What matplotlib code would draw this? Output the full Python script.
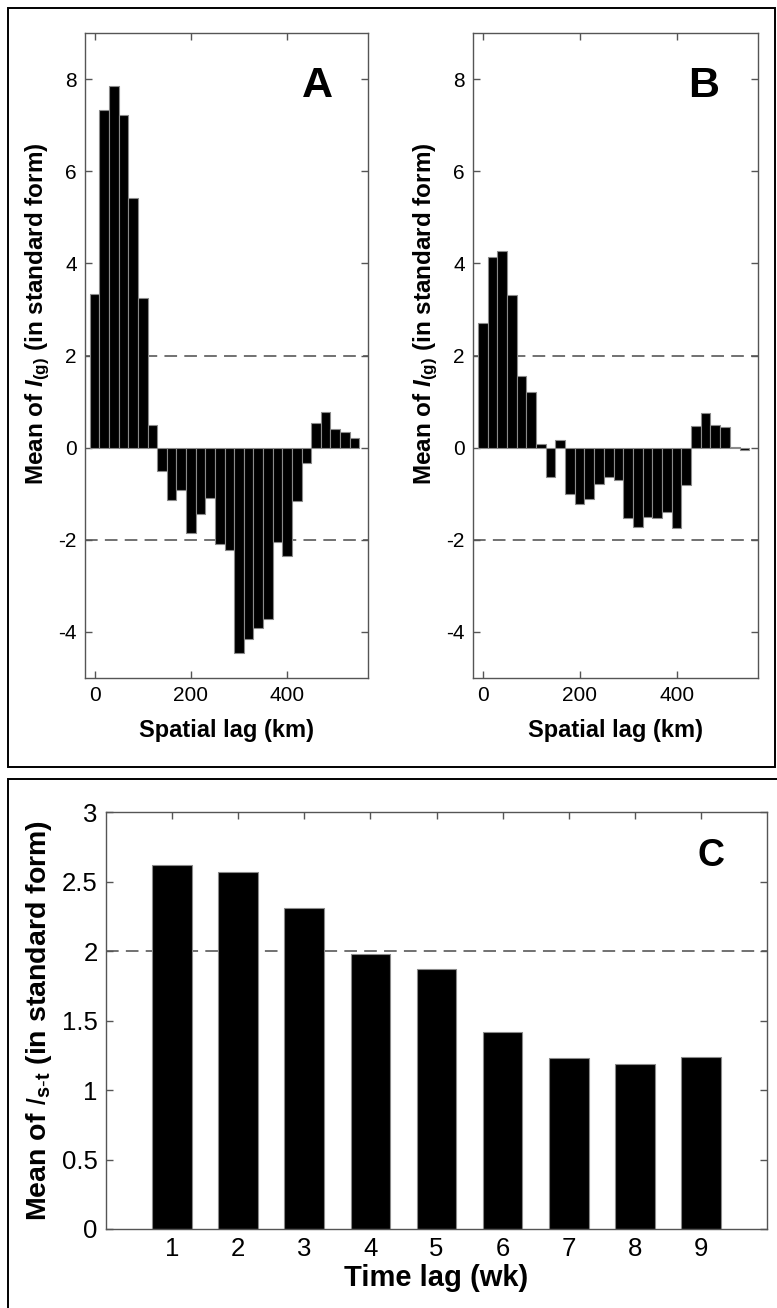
import matplotlib
matplotlib.use("Agg")
import matplotlib.pyplot as plt
from matplotlib.patches import Rectangle

plt.rcParams['font.family'] = ['Liberation Sans', 'DejaVu Sans']
plt.rcParams['axes.unicode_minus'] = False
plt.rcParams['mathtext.fontset'] = 'custom'
plt.rcParams['mathtext.rm'] = 'Liberation Sans'
plt.rcParams['mathtext.it'] = 'Liberation Sans:italic'
plt.rcParams['mathtext.bf'] = 'Liberation Sans:bold'
plt.rcParams['mathtext.bfit'] = 'Liberation Sans:italic:bold'

# spatial lag classes (km)
lags = [0, 20, 40, 60, 80, 100, 120, 140, 160, 180, 200, 220, 240, 260,
        280, 300, 320, 340, 360, 380, 400, 420, 440, 460, 480, 500, 520, 540]
# panel A: mean I(g)
vals_a = [3.33, 7.33, 7.86, 7.21, 5.42, 3.24, 0.49, -0.51, -1.14, -0.91,
          -1.86, -1.43, -1.09, -2.10, -2.23, -4.46, -4.15, -3.91, -3.73, -2.04,
          -2.36, -1.16, -0.33, 0.53, 0.78, 0.41, 0.33, 0.22]
# panel B: mean I(g)
vals_b = [2.70, 4.14, 4.26, 3.32, 1.56, 1.21, 0.07, -0.64, 0.17, -1.00,
          -1.22, -1.11, -0.80, -0.64, -0.70, -1.52, -1.72, -1.50, -1.52, -1.40,
          -1.74, -0.82, 0.46, 0.76, 0.49, 0.45, 0.01, -0.06]
# panel C: mean I(s-t) by time lag
weeks = [1, 2, 3, 4, 5, 6, 7, 8, 9]
vals_c = [2.62, 2.57, 2.31, 1.98, 1.87, 1.42, 1.23, 1.19, 1.24]

W, H = 777, 1308
fig = plt.figure(figsize=(W / 100, H / 100), dpi=100)

AXCOL = '#555555'
DASH = (0, (7, 4))


def px_rect(left, top, right, bottom):
    return [left / W, 1 - bottom / H, (right - left) / W, (bottom - top) / H]


def style_axis(ax, fs):
    for s in ax.spines.values():
        s.set_color(AXCOL)
        s.set_linewidth(1.0)
    ax.tick_params(direction='in', top=True, right=True, length=5,
                   width=1.0, color=AXCOL, labelsize=fs, pad=6)


def spatial_panel(rect, vals, letter, lx):
    ax = fig.add_axes(px_rect(*rect))
    ax.bar(lags, vals, width=20, color='black', edgecolor='#8a8a8a',
           linewidth=0.8, zorder=2)
    ax.axhline(2, color='#666666', ls=DASH, lw=1.3, zorder=1)
    ax.axhline(-2, color='#666666', ls=DASH, lw=1.3, zorder=1)
    ax.set_xlim(-20, 568)
    ax.set_ylim(-5, 9)
    ax.set_xticks([0, 200, 400])
    ax.set_yticks([-4, -2, 0, 2, 4, 6, 8])
    style_axis(ax, 15)
    ax.set_xlabel('Spatial lag (km)', fontsize=17, fontweight='bold', labelpad=10)
    ax.set_ylabel(r'Mean of $\mathbfit{I}_{\mathbf{(g)}}$ (in standard form)',
                  fontsize=17.5, fontweight='bold')
    ax.yaxis.set_label_coords(lx, 0.565)
    ax.text(lx_letter[letter], 7.86, letter, fontsize=31, fontweight='bold',
            ha='center', va='center')
    return ax


lx_letter = {'A': 463, 'B': 455}
spatial_panel((85, 33, 368, 678), vals_a, 'A', -0.115)
spatial_panel((473, 33, 758, 678), vals_b, 'B', -0.115)

# panel C
axc = fig.add_axes(px_rect(106, 812, 767, 1229))
axc.bar(weeks, vals_c, width=0.6, color='black', edgecolor='#8a8a8a',
        linewidth=0.8, zorder=2)
axc.axhline(2, color='#666666', ls=DASH, lw=1.3, zorder=1)
axc.set_xlim(0, 10)
axc.set_ylim(0, 3)
axc.set_xticks(weeks)
axc.set_yticks([0, 0.5, 1, 1.5, 2, 2.5, 3])
axc.set_yticklabels(['0', '0.5', '1', '1.5', '2', '2.5', '3'])
style_axis(axc, 18.5)
axc.set_xlabel('Time lag (wk)', fontsize=21, fontweight='bold', labelpad=2)
axc.set_ylabel(r'Mean of $\mathit{I}_{\mathbf{s\text{-}t}}$ (in standard form)',
               fontsize=20.5, fontweight='bold')
axc.yaxis.set_label_coords(-0.078, 0.5)
axc.text(9.15, 2.68, 'C', fontsize=27, fontweight='bold', ha='center', va='center')

# panel frames
fig.patches.append(Rectangle((8 / W, 1 - 767 / H), 767 / W, 759 / H,
                             transform=fig.transFigure, fill=False,
                             edgecolor='black', linewidth=1.4))
fig.patches.append(Rectangle((8 / W, -0.01), 1.0, 1 - 779 / H + 0.01,
                             transform=fig.transFigure, fill=False,
                             edgecolor='black', linewidth=1.4))

fig.savefig('out.png', dpi=100)
